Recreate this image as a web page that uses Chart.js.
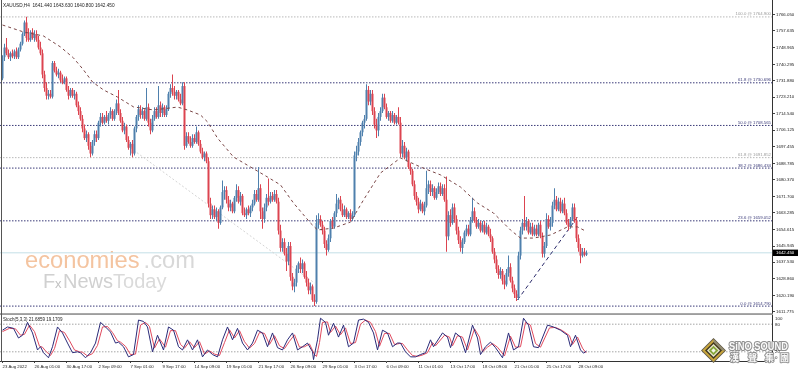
<!DOCTYPE html>
<html><head><meta charset="utf-8">
<script src="https://cdn.jsdelivr.net/npm/chart.js@4"></script>
<style>
html,body{margin:0;padding:0;background:#fff;width:798px;height:372px;overflow:hidden;}
#c1{position:absolute;left:0;top:0;}
#c2{position:absolute;left:0;top:315px;}
</style></head><body>
<canvas id="c1" width="798" height="320"></canvas>
<canvas id="c2" width="798" height="57"></canvas>
<script>
// ---------------- DATA ----------------
const titleText = 'XAUUSD,H4  1641.440 1643.630 1640.800 1642.450';
const stochText = 'Stoch(5,3,3) 21.6859 19.1709';
const priceTicks = [1766.050,1757.635,1748.965,1740.295,1731.880,1723.210,1714.540,1706.125,1697.455,1688.785,1680.370,1671.700,1663.285,1654.615,1645.945,1637.530,1628.860,1620.190,1611.775];
const timeTickIdx = [0,16,32,48,64,80,96,112,128,144,160,176,192,208,224,240,256,272,288];
const timeTickLabels = ['23 Aug 2022','26 Aug 01:00','30 Aug 17:00','2 Sep 09:00','7 Sep 01:00','9 Sep 17:00','14 Sep 09:00','19 Sep 01:00','21 Sep 17:00','26 Sep 09:00','29 Sep 01:00','3 Oct 17:00','6 Oct 09:00','11 Oct 01:00','13 Oct 17:00','18 Oct 09:00','21 Oct 01:00','25 Oct 17:00','28 Oct 09:00'];

const opens = [1733,1744,1749,1746,1744,1746,1744.5,1747,1744,1748,
1751,1756,1762,1754,1753,1757,1754,1756,1753,1749,
1746,1735,1728,1724,1725,1723.5,1741,1737,1735,1736,
1732,1731,1733,1727,1724,1727,1724,1725,1719,1716,
1712,1707,1702,1704,1698,1694,1700,1704,1702,1710,
1713,1710,1713,1711,1714,1716,1712,1716,1720,1715,
1711,1706,1708,1701,1697,1699,1694,1707,1713,1717,
1714,1716,1712,1718,1710,1706,1712,1716,1713,1719,
1715,1718,1714,1717,1725,1728,1726,1724,1726,1722,
1720,1729,1698,1703,1700,1698,1702,1700,1705,1699,
1695,1692,1694,1690,1668,1662,1665,1661,1664,1658,
1666,1674,1675,1670,1666,1668,1664,1671,1675,1669,
1672,1663,1662,1665,1663,1666,1668,1673,1670,1676,
1664,1660,1666,1671,1669,1672,1670,1673,1669,1654,
1645,1648,1642,1638,1646,1630,1625,1627,1634,1637,
1634,1637,1630,1627,1623,1625,1618,1617,1658,1660,
1657,1654,1647,1644,1650,1659,1656,1663,1668,1670,
1665,1662,1665,1661,1663,1660,1662,1693,1695,1700,
1705,1710,1712,1727,1721,1725,1716,1709,1706,1713,
1716,1723,1718,1713,1715,1711,1714,1710,1713,1710,
1694,1698,1692,1695,1687,1685,1678,1672,1669,1665,
1668,1664,1667,1676,1678,1674,1676,1671,1674,1677,
1673,1676,1670,1651,1662,1658,1666,1660,1654,1649,
1645,1648,1653,1655,1652,1659,1664,1659,1656,1658,
1654,1657,1653,1656,1652,1650,1643,1639,1634,1631,
1633,1628,1626,1632,1635,1628,1624,1621,1619,1641,
1654,1658,1656,1659,1653,1656,1652,1655,1652,1657,
1651,1642,1646,1660,1656,1658,1667,1670,1665,1669,
1664,1668,1663,1658,1656,1660,1666,1659,1650,1645,
1641,1643,1641.44];

const highs = [1745,1751,1754,1748,1747,1748,1748,1749,1749,1752,
1757,1763,1765,1759,1758,1759,1758,1758,1755,1752,
1748,1737,1731,1727,1727,1742,1742,1739,1738,1737,
1735,1734,1734,1729,1728,1728,1727,1726,1721,1718,
1714,1709,1706,1705,1700,1701,1706,1706,1711,1715,
1715,1714,1716,1715,1718,1717,1717,1722,1727,1717,
1713,1710,1709,1703,1700,1701,1708,1714,1719,1719,
1718,1717,1728,1720,1712,1714,1718,1718,1729,1721,
1720,1719,1719,1726,1730,1735,1729,1727,1727,1725,
1731,1731,1705,1705,1703,1704,1704,1708,1706,1701,
1697,1695,1695,1692,1671,1667,1667,1666,1665,1667,
1680,1677,1677,1672,1670,1669,1672,1678,1677,1674,
1673,1666,1666,1667,1667,1670,1675,1675,1687,1678,
1666,1668,1673,1681,1674,1674,1675,1675,1671,1657,
1650,1650,1645,1648,1648,1632,1629,1636,1638,1640,
1639,1638,1633,1629,1627,1626,1621,1662,1663,1662,
1659,1656,1649,1652,1660,1661,1664,1673,1671,1672,
1668,1667,1666,1664,1665,1664,1695,1698,1702,1706,
1711,1714,1730,1729,1727,1727,1718,1712,1715,1718,
1725,1725,1720,1716,1716,1716,1715,1714,1718,1713,
1701,1700,1697,1696,1689,1686,1680,1674,1671,1670,
1669,1669,1685,1680,1680,1678,1677,1676,1679,1679,
1678,1678,1682,1664,1665,1668,1668,1662,1656,1651,
1650,1654,1657,1657,1661,1671,1666,1661,1660,1659,
1659,1659,1658,1657,1655,1651,1645,1641,1636,1635,
1634,1631,1634,1641,1637,1630,1626,1623,1643,1656,
1660,1672,1661,1660,1658,1658,1657,1657,1658,1659,
1653,1648,1663,1662,1661,1669,1676,1672,1671,1671,
1670,1671,1665,1660,1661,1668,1668,1661,1652,1647,
1645,1645,1643.63];

const lows = [1732,1742,1745,1743,1742,1743.5,1743,1743,1743,1747,
1750,1755,1752,1752,1752,1753,1752,1752,1748,1745,
1733,1726,1722,1722,1722.5,1722.5,1736,1734,1733,1731,
1730,1730,1726,1722,1723,1723,1722,1718,1714,1711,
1705,1701,1700,1696,1692,1693,1698,1700,1701,1708,
1709,1709,1710,1709,1712,1711,1711,1714,1714,1710,
1705,1704,1700,1696,1693,1692,1693,1705,1711,1712,
1712,1711,1711,1708,1704,1705,1711,1712,1712,1713,
1713,1713,1713,1716,1723,1724,1722,1722,1721,1719,
1719,1696,1697,1699,1697,1697,1699,1699,1698,1694,
1691,1690,1689,1666,1660,1660,1660,1659,1655,1657,
1665,1670,1668,1664,1664,1663,1663,1669,1668,1667,
1662,1661,1660,1662,1661,1664,1667,1669,1669,1660,
1655,1658,1664,1667,1668,1669,1669,1668,1652,1643,
1643,1641,1633,1636,1628,1623,1622,1625,1632,1632,
1632,1629,1625,1621,1621,1617,1614.8,1616,1655,1656,
1652,1645,1641,1643,1648,1655,1655,1661,1665,1664,
1661,1661,1660,1660,1659,1659,1661,1690,1693,1698,
1703,1707,1711,1719,1719,1714,1707,1702,1703,1711,
1715,1717,1712,1711,1710,1710,1709,1709,1709,1692,
1692,1691,1690,1686,1683,1677,1670,1667,1663,1664,
1663,1662,1666,1673,1672,1672,1670,1670,1673,1672,
1672,1669,1643,1649,1656,1657,1658,1652,1647,1643,
1642,1647,1651,1651,1651,1658,1658,1655,1655,1653,
1653,1652,1652,1651,1648,1642,1637,1632,1629,1629,
1626,1623.5,1625,1630,1627,1622,1619,1617.5,1618,1639,
1652,1654,1654,1652,1652,1651,1651,1651,1651,1650,
1640,1640,1645,1655,1654,1656,1665,1664,1664,1663,
1663,1662,1657,1654,1655,1659,1658,1648,1643,1637,
1640,1640.5,1640.8];

const closes = [1744,1749,1746,1744,1746,1744.5,1747,1744,1748,1751,
1756,1762,1754,1753,1757,1754,1756,1753,1749,1746,
1735,1728,1724,1725,1723.5,1741,1737,1735,1736,1732,
1731,1733,1727,1724,1727,1724,1725,1719,1716,1712,
1707,1702,1704,1698,1694,1700,1704,1702,1710,1713,
1710,1713,1711,1714,1716,1712,1716,1720,1715,1711,
1706,1708,1701,1697,1699,1694,1707,1713,1717,1714,
1716,1712,1718,1710,1706,1712,1716,1713,1719,1715,
1718,1714,1717,1725,1728,1726,1724,1726,1722,1720,
1729,1698,1703,1700,1698,1702,1700,1705,1699,1695,
1692,1694,1690,1668,1662,1665,1661,1664,1658,1666,
1674,1675,1670,1666,1668,1664,1671,1675,1669,1672,
1663,1662,1665,1663,1666,1668,1673,1670,1676,1664,
1660,1666,1671,1669,1672,1670,1673,1669,1654,1645,
1648,1642,1638,1646,1630,1625,1627,1634,1637,1634,
1637,1630,1627,1623,1625,1618,1617,1658,1660,1657,
1654,1647,1644,1650,1659,1656,1663,1668,1670,1665,
1662,1665,1661,1663,1660,1662,1693,1695,1700,1705,
1710,1712,1727,1721,1725,1716,1709,1706,1713,1716,
1723,1718,1713,1715,1711,1714,1710,1713,1710,1694,
1698,1692,1695,1687,1685,1678,1672,1669,1665,1668,
1664,1667,1676,1678,1674,1676,1671,1674,1677,1673,
1676,1670,1651,1662,1658,1666,1660,1654,1649,1645,
1648,1653,1655,1652,1659,1664,1659,1656,1658,1654,
1657,1653,1656,1652,1650,1643,1639,1634,1631,1633,
1628,1626,1632,1635,1628,1624,1621,1619,1641,1654,
1658,1656,1659,1653,1656,1652,1655,1652,1657,1651,
1642,1646,1660,1656,1658,1667,1670,1665,1669,1664,
1668,1663,1658,1656,1660,1666,1659,1650,1645,1641,
1643,1641.44,1642.45];

// moving average (dashed), read at sparse bar positions
const maX = [0,10.5,20.5,29,35.5,40.5,45,50.5,57.5,65.5,75.5,87.5,92.5,99,102.5,107.5,115.5,124,132.5,139,145.5,154,157.5,165.5,174,180.5,189,199,209,219,229,237.5,245.5,254,259,265.5,274,282.5,287.5,292];
const maY = [1760.7,1757.1,1755.0,1749.3,1743.6,1737.4,1731.1,1727.0,1723.3,1718.2,1716.6,1718.1,1716.6,1714.0,1710.4,1702.0,1692.2,1687.0,1681.8,1677.7,1668.3,1657.9,1654.3,1655.3,1658.4,1669.9,1683.9,1691.7,1687.0,1682.9,1676.6,1668.3,1663.1,1654.3,1650.1,1650.1,1651.7,1655.9,1655.9,1653.5];

// Fibonacci levels
const fibBlueLevels = [1730.696,1708.565,1686.434,1659.052,1614.790];
const fibBlueLabels = ['61.8 @ 1730.696','50.0 @ 1708.565','38.2 @ 1686.434','23.6 @ 1659.052','0.0 @ 1614.790'];
const fibGrayLevels = [1764.900,1691.852];
const fibGrayLabels = ['100.0 @ 1764.900','61.8 @ 1691.852'];
const blueTrend = [[257.5,1617.96],[287.5,1661.04]];
const grayTrend = [[64,1696.9],[156,1626.8]];
const lastPrice = 1642.45;

// Stochastic %K (main) and %D (signal)
const stochK = [[0,67],[2.5,74],[5.5,71],[8,50],[10,56],[12.5,84],[15,61],[17.5,24],[19,31],[20.5,18],[23,7],[25,31],[27.5,74],[30,61],[32.5,39],[35,18],[37.5,20],[39,18],[41.5,7],[44,18],[46.5,39],[49,84],[51.5,74],[54,63],[56.5,39],[58,41],[60.5,31],[63,9],[65.5,14],[68,89],[70.5,86],[72.5,74],[75,20],[77.5,56],[80.5,24],[83,74],[85.5,67],[88,31],[90,24],[92.5,46],[95,24],[97.5,46],[100,9],[102.5,24],[105,14],[107.5,9],[110,46],[112.5,74],[115,46],[117.5,71],[120,39],[122.5,24],[125,39],[127.5,67],[130,61],[132.5,31],[135,61],[137.5,29],[140,24],[142.5,46],[145,61],[147.5,24],[150,31],[152.5,39],[155,20],[155.5,3],[157.5,46],[159,93],[161.5,84],[163,56],[165.5,82],[168,52],[170.5,78],[173,31],[175.5,39],[178,89],[180.5,91],[183,84],[185.5,61],[187.5,24],[190,67],[192.5,61],[195,31],[197.5,39],[199,39],[201.5,20],[204,9],[206.5,9],[209,14],[211.5,18],[214,46],[215.5,31],[220,61],[222.5,52],[224,29],[226.5,61],[229,52],[231.5,18],[235,78],[237.5,50],[239,14],[241.5,31],[244,41],[246.5,29],[250,7],[253,61],[255.5,24],[258,31],[260.5,93],[263,78],[265.5,31],[268,29],[272.5,78],[275.5,74],[279,67],[282.5,56],[284,31],[286.5,56],[289,24],[290.5,17],[292,21.69]];
const stochD = [[0,64],[3.5,71],[6.5,70],[9,56],[11,58],[13.5,78],[16,64],[18.5,32],[20,30],[21.5,22],[24,12],[26,27],[28.5,66],[31,62],[33.5,44],[36,24],[38.5,20],[40,19],[42.5,11],[45,16],[47.5,34],[50,74],[52.5,75],[55,62],[57.5,44],[59,41],[61.5,32],[64,14],[66.5,15],[69,78],[71.5,84],[73.5,75],[76,28],[78.5,48],[81.5,30],[84,66],[86.5,66],[89,36],[91,28],[93.5,42],[96,29],[98.5,42],[101,15],[103.5,22],[106,15],[108.5,12],[111,40],[113.5,68],[116,50],[118.5,66],[121,42],[123.5,28],[126,38],[128.5,62],[131,60],[133.5,36],[136,55],[138.5,33],[141,27],[143.5,43],[146,57],[148.5,30],[151,31],[153.5,37],[156,14],[157,10],[158.5,40],[160,84],[162.5,85],[164,62],[166.5,76],[169,57],[171.5,72],[174,38],[176.5,40],[179,80],[181.5,89],[184,84],[186.5,64],[188.5,32],[191,60],[193.5,60],[196,36],[198.5,38],[200,38],[202.5,24],[205,12],[207.5,10],[210,13],[212.5,18],[215,40],[216.5,33],[221,56],[223.5,52],[225,33],[227.5,55],[230,52],[232.5,24],[236,70],[238.5,52],[240,20],[242.5,30],[245,38],[247.5,30],[251,11],[254,54],[256.5,30],[259,31],[261.5,84],[264,78],[266.5,38],[269,30],[273.5,72],[276.5,73],[280,66],[283.5,55],[285,36],[287.5,52],[290,28],[291.5,19],[292,19.17]];
const stochLevels = [80,20];
const stochAxisLabels = ['100','80','20','0'];

// ---------------- STYLE ----------------
const FONT = "'Liberation Sans', Arial, sans-serif";
const RED = '#dc4450', BLUE = '#4f80ad';
const NAVY = '#3a3a78';
const XMIN = -1.25, XMAX = 384.75;

function hline(v, color, dash, order){
  return {type:'line', data:[{x:XMIN,y:v},{x:XMAX,y:v}], borderColor:color, borderWidth:1,
    borderDash:dash, pointRadius:0, order:order, fill:false};
}
function seg(pts, color, dash, order){
  return {type:'line', data:pts.map(p=>({x:p[0],y:p[1]})), borderColor:color, borderWidth:1,
    borderDash:dash, pointRadius:0, order:order, fill:false};
}
const candleColor = c => (closes[c.dataIndex] >= opens[c.dataIndex] ? BLUE : RED);

const mainDecor = {
  id:'mainDecor',
  beforeDatasetsDraw(chart){
    const ctx = chart.ctx;
    ctx.save();
    ctx.textBaseline = 'alphabetic';
    ctx.font = '24px ' + FONT;
    const w1 = ctx.measureText('economies').width, w2 = ctx.measureText('.com').width;
    const sx = 170/(w1+w2+4);
    ctx.translate(25, 268); ctx.scale(sx,1);
    ctx.fillStyle = '#f4c4a0'; ctx.fillText('economies',0,0);
    ctx.fillStyle = '#d8d8d8'; ctx.fillText('.com',w1+4,0);
    ctx.restore();
    ctx.save();
    ctx.fillStyle = '#d0d0d0';
    ctx.font = '20px ' + FONT; ctx.fillText('F', 43, 288);
    ctx.fillStyle = '#c2c2c2';
    ctx.font = '13px ' + FONT; ctx.fillText('x', 55, 288);
    ctx.fillStyle = '#d0d0d0';
    ctx.font = '20px ' + FONT; ctx.fillText('News', 63, 288);
    const wn = ctx.measureText('News').width;
    ctx.fillStyle = '#dadada'; ctx.fillText('Today', 63+wn, 288);
    ctx.restore();
  },
  afterDatasetsDraw(chart){
    const ctx = chart.ctx, y = chart.scales.y;
    ctx.save();
    ctx.font = '4.3px ' + FONT; ctx.textAlign = 'right'; ctx.textBaseline = 'bottom';
    fibBlueLevels.forEach((v,i)=>{ ctx.fillStyle = NAVY; ctx.fillText(fibBlueLabels[i], 771, y.getPixelForValue(v)-0.5); });
    fibGrayLevels.forEach((v,i)=>{ ctx.fillStyle = '#9a9a9a'; ctx.fillText(fibGrayLabels[i], 771, y.getPixelForValue(v)-0.5); });
    ctx.restore();
  },
  afterDraw(chart){
    const ctx = chart.ctx, y = chart.scales.y;
    ctx.save();
    ctx.fillStyle = '#222'; ctx.font = '4.7px ' + FONT; ctx.textBaseline = 'middle'; ctx.textAlign='left';
    ctx.fillText(titleText, 3, 5.5);
    const py = y.getPixelForValue(lastPrice);
    ctx.fillStyle = '#000'; ctx.fillRect(773, py-3.2, 25, 6.4);
    ctx.fillStyle = '#fff'; ctx.font = '4.4px ' + FONT; ctx.fillText(lastPrice.toFixed(3), 776, py+0.2);
    ctx.fillStyle = '#858585'; ctx.fillRect(0, 313.3, 773, 1.5);
    ctx.fillStyle = '#555'; ctx.fillRect(1, 0, 1, 320);
    ctx.restore();
  }
};

const stochDecor = {
  id:'stochDecor',
  afterDraw(chart){
    const ctx = chart.ctx, ys = chart.scales.y;
    ctx.save();
    ctx.fillStyle = '#222'; ctx.font = '4.5px ' + FONT; ctx.textBaseline = 'middle'; ctx.textAlign='left';
    ctx.fillText(stochText, 3, 4.5);
    ctx.fillStyle = '#555'; ctx.fillRect(1, 0, 1, 47);
    // logo diamond
    const cx = 713.5, cy = 35.5;
    const dia = (r, col) => { ctx.beginPath(); ctx.moveTo(cx,cy-r); ctx.lineTo(cx+r,cy); ctx.lineTo(cx,cy+r); ctx.lineTo(cx-r,cy); ctx.closePath(); ctx.fillStyle=col; ctx.fill(); };
    dia(12.5,'#5a5546'); dia(11.3,'#c9a63c');
    ctx.beginPath(); ctx.moveTo(cx,cy-11.3); ctx.lineTo(cx+11.3,cy); ctx.lineTo(cx+8.5,cy); ctx.lineTo(cx,cy-8.5); ctx.closePath(); ctx.fillStyle='#8d8a78'; ctx.fill();
    dia(8.5,'#403a22'); dia(6.5,'#ece8cf'); dia(4.8,'#86a63a'); dia(2.2,'#f6f6ea');
    ctx.lineJoin = 'round';
    ctx.lineWidth = 2.2; ctx.strokeStyle = '#8f8f8f'; ctx.fillStyle = '#fbfbfb';
    ctx.font = 'bold 10px ' + FONT; ctx.textBaseline = 'alphabetic';
    const sw = ctx.measureText('SiNO SOUND').width;
    ctx.save(); ctx.translate(729, 34.5); ctx.scale(59/sw, 1);
    ctx.strokeText('SiNO SOUND', 0, 0); ctx.fillText('SiNO SOUND', 0, 0);
    ctx.restore();
    ctx.font = "bold 9px 'Noto Sans CJK TC', sans-serif";
    ctx.lineWidth = 2;
    [['漢',730],['聲',748],['集',765],['團',780]].forEach(([ch,x])=>{ ctx.strokeText(ch,x,45.5); ctx.fillText(ch,x,45.5); });
    // level labels
    ctx.fillStyle = '#222'; ctx.font = '4.4px ' + FONT; ctx.textBaseline='middle';
    const offs = [3.7,0.5,0,-3.3];
    [100,80,20,0].forEach((v,i)=>{ ctx.fillText(stochAxisLabels[i], 775, ys.getPixelForValue(v)+offs[i]); });
    ctx.restore();
  }
};

// ---------------- MAIN CHART ----------------
const mainSets = [];
fibGrayLevels.forEach(v=>mainSets.push(hline(v, '#b8b8b8', [1.5,1.5], 12)));
fibBlueLevels.forEach(v=>mainSets.push(hline(v, NAVY, [1.5,1.5], 11)));
mainSets.push(hline(lastPrice, '#c3dfe7', [], 12));
mainSets.push(seg(grayTrend, '#d4d4d4', [2,2], 10));
mainSets.push(seg(blueTrend, '#2a2a6a', [4,3], 10));
mainSets.push({type:'bar', data:highs.map((h,i)=>({x:i, y:[lows[i],h]})), backgroundColor:candleColor,
  barThickness:1, grouped:false, inflateAmount:0, borderWidth:0, order:6});
mainSets.push({type:'bar', data:opens.map((o,i)=>({x:i, y:[o,closes[i]]})), backgroundColor:candleColor,
  barThickness:2, grouped:false, inflateAmount:0, borderWidth:0, minBarLength:1, order:5});
mainSets.push({type:'line', data:maX.map((x,i)=>({x:x,y:maY[i]})), borderColor:'#7a4646', borderWidth:1,
  borderDash:[3,3], pointRadius:0, order:1, fill:false});

new Chart(document.getElementById('c1'), {
  type:'bar',
  data:{datasets:mainSets},
  options:{
    responsive:false, animation:false, events:[],
    layout:{padding:{left:0,right:0,top:0,bottom:7}},
    plugins:{legend:{display:false}, tooltip:{enabled:false}},
    scales:{
      x:{type:'linear', min:XMIN, max:XMAX, display:false, offset:false},
      y:{type:'linear', position:'right', min:1611.21, max:1773.68,
        afterBuildTicks(s){ s.ticks = priceTicks.map(v=>({value:v})); },
        afterFit(s){ s.width = 26; s.paddingTop = 0; s.paddingBottom = 0; },
        grid:{drawOnChartArea:false, drawTicks:true, tickLength:3, color:'#444', lineWidth:1},
        border:{display:true, color:'#333', width:1},
        ticks:{autoSkip:false, padding:1, color:'#222', font:{family:FONT, size:4.4}, callback:v=>Number(v).toFixed(3)}
      }
    }
  },
  plugins:[mainDecor]
});

// ---------------- STOCHASTIC ----------------
const stochSets = stochLevels.map(v=>hline(v, '#a6a6a6', [1.5,1.5], 10));
stochSets.push({type:'line', data:stochD.map(p=>({x:p[0],y:p[1]})), borderColor:'#e04a5e', borderWidth:1, pointRadius:0, order:3, fill:false});
stochSets.push({type:'line', data:stochK.map(p=>({x:p[0],y:p[1]})), borderColor:'#2a2a78', borderWidth:1, pointRadius:0, order:2, fill:false});

new Chart(document.getElementById('c2'), {
  type:'line',
  data:{datasets:stochSets},
  options:{
    responsive:false, animation:false, events:[],
    layout:{padding:0},
    plugins:{legend:{display:false}, tooltip:{enabled:false}},
    scales:{
      x:{type:'linear', min:XMIN, max:XMAX, offset:false, position:'bottom',
        afterBuildTicks(s){ s.ticks = timeTickIdx.map(v=>({value:v})); },
        afterFit(s){ s.height = 11; s.paddingLeft = 0; s.paddingRight = 0; },
        grid:{drawOnChartArea:false, drawTicks:true, tickLength:2, color:'#444'},
        border:{display:true, color:'#333'},
        ticks:{autoSkip:false, maxRotation:0, minRotation:0, align:'start', padding:1, color:'#222',
          font:{family:FONT, size:4.3}, callback:v=>timeTickLabels[timeTickIdx.indexOf(v)]}
      },
      y:{type:'linear', position:'right', min:0, max:100,
        afterFit(s){ s.width = 26; s.paddingTop = 0; s.paddingBottom = 0; },
        grid:{display:false}, border:{display:true, color:'#333'},
        ticks:{display:false}
      }
    }
  },
  plugins:[stochDecor]
});
</script>
</body></html>
